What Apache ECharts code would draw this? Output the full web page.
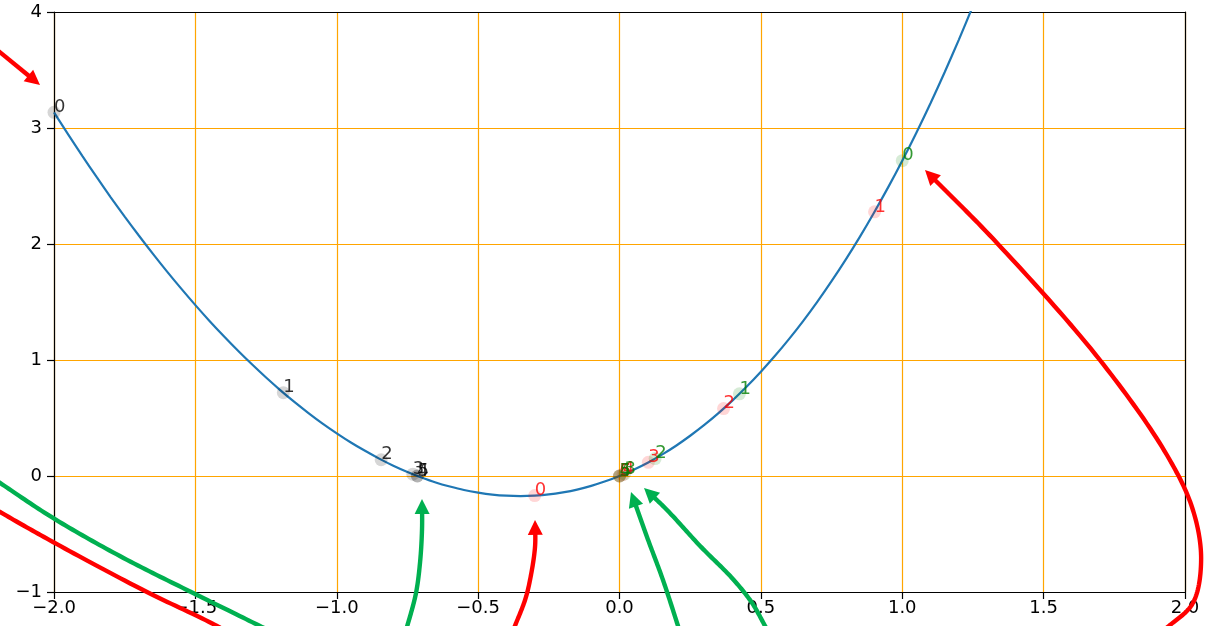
<!DOCTYPE html>
<html>
<head>
<meta charset="utf-8">
<script src="https://cdn.jsdelivr.net/npm/echarts@6/dist/echarts.min.js"></script>
<style>
  html, body { margin: 0; padding: 0; background: #fff; }
  #chart { width: 1208px; height: 626px; }
</style>
</head>
<body>
<div id="chart"></div>
<script>
// Curve samples (x, y)
const curveX = [-2.0, -1.95, -1.9, -1.85, -1.8, -1.75, -1.7, -1.65, -1.6, -1.55, -1.5, -1.45, -1.4, -1.35, -1.3, -1.25, -1.2, -1.15, -1.1, -1.05, -1.0, -0.95, -0.9, -0.85, -0.8, -0.75, -0.7, -0.65, -0.6, -0.55, -0.5, -0.45, -0.4, -0.35, -0.3, -0.25, -0.2, -0.15, -0.1, -0.05, 0.0, 0.05, 0.1, 0.15, 0.2, 0.25, 0.3, 0.35, 0.4, 0.45, 0.5, 0.55, 0.6, 0.65, 0.7, 0.75, 0.8, 0.85, 0.9, 0.95, 1.0, 1.05, 1.1, 1.15, 1.2, 1.25, 1.3];
const curveY = [3.135, 2.945, 2.760, 2.580, 2.405, 2.236, 2.073, 1.915, 1.762, 1.615, 1.473, 1.337, 1.207, 1.082, 0.963, 0.849, 0.741, 0.639, 0.543, 0.452, 0.368, 0.289, 0.217, 0.150, 0.089, 0.035, -0.013, -0.056, -0.091, -0.121, -0.143, -0.160, -0.170, -0.173, -0.169, -0.159, -0.141, -0.117, -0.085, -0.046, 0.0, 0.054, 0.115, 0.184, 0.261, 0.347, 0.440, 0.542, 0.652, 0.771, 0.899, 1.036, 1.182, 1.338, 1.504, 1.680, 1.866, 2.062, 2.270, 2.488, 2.718, 2.960, 3.214, 3.481, 3.760, 4.053, 4.359];

// Iterates, one series per starting point
const blackX = [-2.0, -1.189, -0.843, -0.731, -0.715, -0.7146];
const blackY = [3.135, 0.718, 0.140, 0.016, 0.0003, 0.0];
const redX = [-0.3, 0.902, 0.368, 0.102, 0.012, 0.0002, 0.0];
const redY = [-0.169, 2.277, 0.581, 0.118, 0.012, 0.0002, 0.0];
const greenX = [1.0, 0.424, 0.126, 0.018, 0.0004, 0.0];
const greenY = [2.718, 0.708, 0.150, 0.018, 0.0004, 0.0];

// Tick labels
const xTickLabels = ['\u22122.0', '\u22121.5', '\u22121.0', '\u22120.5', '0.0', '0.5', '1.0', '1.5', '2.0'];
const yTickLabels = ['\u22121', '0', '1', '2', '3', '4'];

// Annotation arrows, in data units, tail first and tip last
const arrowTopLeft = [[-2.244, 3.759], [-2.0495, 3.371]];
const arrowRight = [[1.876, -1.414], [1.947, -1.285], [2.028, -1.095], [2.057, -0.724], [2.028, -0.293], [1.936, 0.181], [1.699, 1.0], [1.335, 2.009], [1.0805, 2.638]];
const arrowGreenLeftRoot = [[-0.762, -1.379], [-0.7445, -1.241], [-0.7197, -1.009], [-0.7056, -0.75], [-0.6985, -0.466], [-0.6985, -0.198]];
const arrowRedMin = [[-0.384, -1.379], [-0.370, -1.293], [-0.334, -1.069], [-0.3165, -0.897], [-0.2988, -0.612], [-0.2988, -0.379]];
const arrowGreenA = [[0.2175, -1.379], [0.2069, -1.293], [0.1538, -0.897], [0.0973, -0.526], [0.0407, -0.138]];
const arrowGreenB = [[0.536, -1.379], [0.515, -1.293], [0.469, -1.095], [0.401, -0.888], [0.285, -0.603], [0.168, -0.293], [0.0867, -0.103]];
const strokeGreenLower = [[-2.262, 0.052], [-2.191, -0.060], [-2.0035, -0.362], [-1.767, -0.690], [-1.508, -1.009], [-1.2715, -1.293], [-1.2007, -1.379]];
const strokeRedLower = [[-2.262, -0.207], [-2.191, -0.310], [-2.0035, -0.569], [-1.685, -0.983], [-1.4235, -1.293], [-1.360, -1.388]];

const RED = '#ff0000';
const ARROW_GREEN = '#00b050';
const FONT = 'DejaVu Sans';
const FONT_SIZE = 18;

const zip = (xs, ys) => xs.map((x, i) => [x, ys[i]]);

function pointSeries(xs, ys, fill, textColor) {
  return {
    type: 'scatter',
    data: zip(xs, ys),
    symbolSize: 13,
    itemStyle: { color: fill },
    label: {
      show: true,
      position: [6.5, 6.5],
      align: 'left',
      verticalAlign: 'bottom',
      offset: [0, 4],
      formatter: p => String(p.dataIndex),
      color: textColor,
      fontFamily: FONT,
      fontSize: FONT_SIZE
    },
    emphasis: { disabled: true },
    z: 3
  };
}

const chart = echarts.init(document.getElementById('chart'), null, { renderer: 'canvas' });

const axisLabelStyle = { color: '#000', fontFamily: FONT, fontSize: FONT_SIZE };

chart.setOption({
  animation: false,
  backgroundColor: '#fff',
  grid: { left: 54, right: 23, top: 12, bottom: 34, containLabel: false },
  xAxis: [{
    type: 'value', min: -2, max: 2, interval: 0.5,
    axisLine: { onZero: false, lineStyle: { color: '#000', width: 1.2 } },
    axisTick: { show: true, inside: false, length: 7, lineStyle: { color: '#000', width: 1.2 } },
    axisLabel: Object.assign({ margin: 7, formatter: (v, i) => xTickLabels[i] }, axisLabelStyle),
    splitLine: { show: true, lineStyle: { color: '#ffa500', width: 1.2 } }
  }, {
    type: 'value', min: -2, max: 2, position: 'top',
    axisLine: { onZero: false, lineStyle: { color: '#000', width: 1.2 } },
    axisTick: { show: false }, axisLabel: { show: false }, splitLine: { show: false }
  }],
  yAxis: [{
    type: 'value', min: -1, max: 4, interval: 1,
    axisLine: { show: true, onZero: false, lineStyle: { color: '#000', width: 1.2 } },
    axisTick: { show: true, inside: false, length: 7, lineStyle: { color: '#000', width: 1.2 } },
    axisLabel: Object.assign({ margin: 12, formatter: (v, i) => yTickLabels[i] }, axisLabelStyle),
    splitLine: { show: true, lineStyle: { color: '#ffa500', width: 1.2 } }
  }, {
    type: 'value', min: -1, max: 4, position: 'right',
    axisLine: { show: true, onZero: false, lineStyle: { color: '#000', width: 1.2 } },
    axisTick: { show: false }, axisLabel: { show: false }, splitLine: { show: false }
  }],
  series: [
    {
      type: 'line',
      data: zip(curveX, curveY),
      showSymbol: false,
      smooth: 0.3,
      clip: true,
      lineStyle: { color: '#1f77b4', width: 2.2 },
      emphasis: { disabled: true },
      z: 2
    },
    pointSeries(blackX, blackY, 'rgba(0,0,0,0.2)', '#000'),
    pointSeries(redX, redY, 'rgba(255,0,0,0.2)', RED),
    pointSeries(greenX, greenY, 'rgba(0,128,0,0.2)', '#008000')
  ]
});

// Arrow strokes and heads, placed through the grid's coordinate system
function toPx(pts) {
  return pts.map(p => chart.convertToPixel({ xAxisIndex: 0, yAxisIndex: 0 }, p));
}

// Centripetal Catmull-Rom resampling so the strokes bend smoothly through their points
function catmullRom(pts, steps) {
  if (pts.length < 3) return pts.slice();
  const n = pts.length;
  const ext = [
    [2 * pts[0][0] - pts[1][0], 2 * pts[0][1] - pts[1][1]],
    ...pts,
    [2 * pts[n - 1][0] - pts[n - 2][0], 2 * pts[n - 1][1] - pts[n - 2][1]]
  ];
  const dist = (a, b) => Math.max(Math.pow(Math.hypot(b[0] - a[0], b[1] - a[1]), 0.5), 1e-6);
  const lerp = (a, b, ta, tb, t) => [
    ((tb - t) * a[0] + (t - ta) * b[0]) / (tb - ta),
    ((tb - t) * a[1] + (t - ta) * b[1]) / (tb - ta)
  ];
  const out = [pts[0]];
  for (let i = 1; i < ext.length - 2; i++) {
    const p0 = ext[i - 1], p1 = ext[i], p2 = ext[i + 1], p3 = ext[i + 2];
    const t0 = 0, t1 = t0 + dist(p0, p1), t2 = t1 + dist(p1, p2), t3 = t2 + dist(p2, p3);
    for (let s = 1; s <= steps; s++) {
      const t = t1 + (t2 - t1) * s / steps;
      const a1 = lerp(p0, p1, t0, t1, t), a2 = lerp(p1, p2, t1, t2, t), a3 = lerp(p2, p3, t2, t3, t);
      const b1 = lerp(a1, a2, t0, t2, t), b2 = lerp(a2, a3, t1, t3, t);
      out.push(lerp(b1, b2, t1, t2, t));
    }
  }
  return out;
}

function arrowElements(pts, color, withHead) {
  const px = catmullRom(toPx(pts), 20);
  const els = [];
  const HEAD_LEN = 15, HEAD_W = 15;
  let linePts = px;
  if (withHead) {
    const tip = px[px.length - 1];
    // heading taken from a point a head-length back along the stroke
    let k = px.length - 2;
    while (k > 0 && Math.hypot(tip[0] - px[k][0], tip[1] - px[k][1]) < HEAD_LEN) k--;
    const prev = px[k];
    let dx = tip[0] - prev[0], dy = tip[1] - prev[1];
    const len = Math.hypot(dx, dy);
    dx /= len; dy /= len;
    const base = [tip[0] - dx * HEAD_LEN, tip[1] - dy * HEAD_LEN];
    const nx = -dy, ny = dx;
    linePts = px.slice(0, k + 1).concat([[tip[0] - dx * (HEAD_LEN - 2), tip[1] - dy * (HEAD_LEN - 2)]]);
    els.push({
      type: 'polygon',
      shape: { points: [tip, [base[0] + nx * HEAD_W / 2, base[1] + ny * HEAD_W / 2], [base[0] - nx * HEAD_W / 2, base[1] - ny * HEAD_W / 2]] },
      style: { fill: color, stroke: null },
      silent: true, z: 101
    });
  }
  els.unshift({
    type: 'polyline',
    shape: { points: linePts },
    style: { stroke: color, lineWidth: 4.4, fill: null, lineCap: 'butt', lineJoin: 'round' },
    silent: true, z: 100
  });
  return els;
}

const graphics = [].concat(
  arrowElements(arrowTopLeft, RED, true),
  arrowElements(arrowRight, RED, true),
  arrowElements(arrowGreenLeftRoot, ARROW_GREEN, true),
  arrowElements(arrowRedMin, RED, true),
  arrowElements(arrowGreenA, ARROW_GREEN, true),
  arrowElements(arrowGreenB, ARROW_GREEN, true),
  arrowElements(strokeGreenLower, ARROW_GREEN, false),
  arrowElements(strokeRedLower, RED, false)
);

chart.setOption({ graphic: { elements: graphics } });
</script>
</body>
</html>
